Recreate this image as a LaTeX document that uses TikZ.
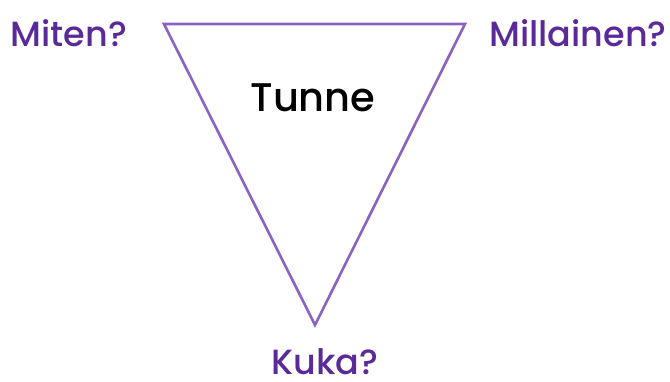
\documentclass[tikz,border=0pt]{standalone}
\usepackage{fontspec}
\setmainfont{Poppins Medium}
\definecolor{labelpurple}{HTML}{5A2A98}
\definecolor{edgepurple}{HTML}{8A62C0}
\begin{document}
\begin{tikzpicture}[x=1pt,y=1pt,
  corner/.style={text=labelpurple,font=\fontsize{35}{40}\selectfont,inner sep=0pt,anchor=base,text depth=0pt},
  centre/.style={text=black,font=\fontsize{40}{44}\selectfont,inner sep=0pt,anchor=base}]
\useasboundingbox (0,0) rectangle (670,381);
% inverted triangle
\coordinate (tl) at (164,357);
\coordinate (tr) at (465,357);
\coordinate (bt) at (315,56);
\draw[edgepurple,line width=2.6pt,line join=miter] (tl) -- (tr) -- (bt) -- cycle;
% labels
\node[corner] (miten) at (69,334) {Miten?};
\node[corner] (millainen) at (578,334) {Millainen?};
\node[corner] (kuka) at (325,7) {Kuka?};
\node[centre] (tunne) at (313,269) {Tunne};
\end{tikzpicture}
\end{document}
